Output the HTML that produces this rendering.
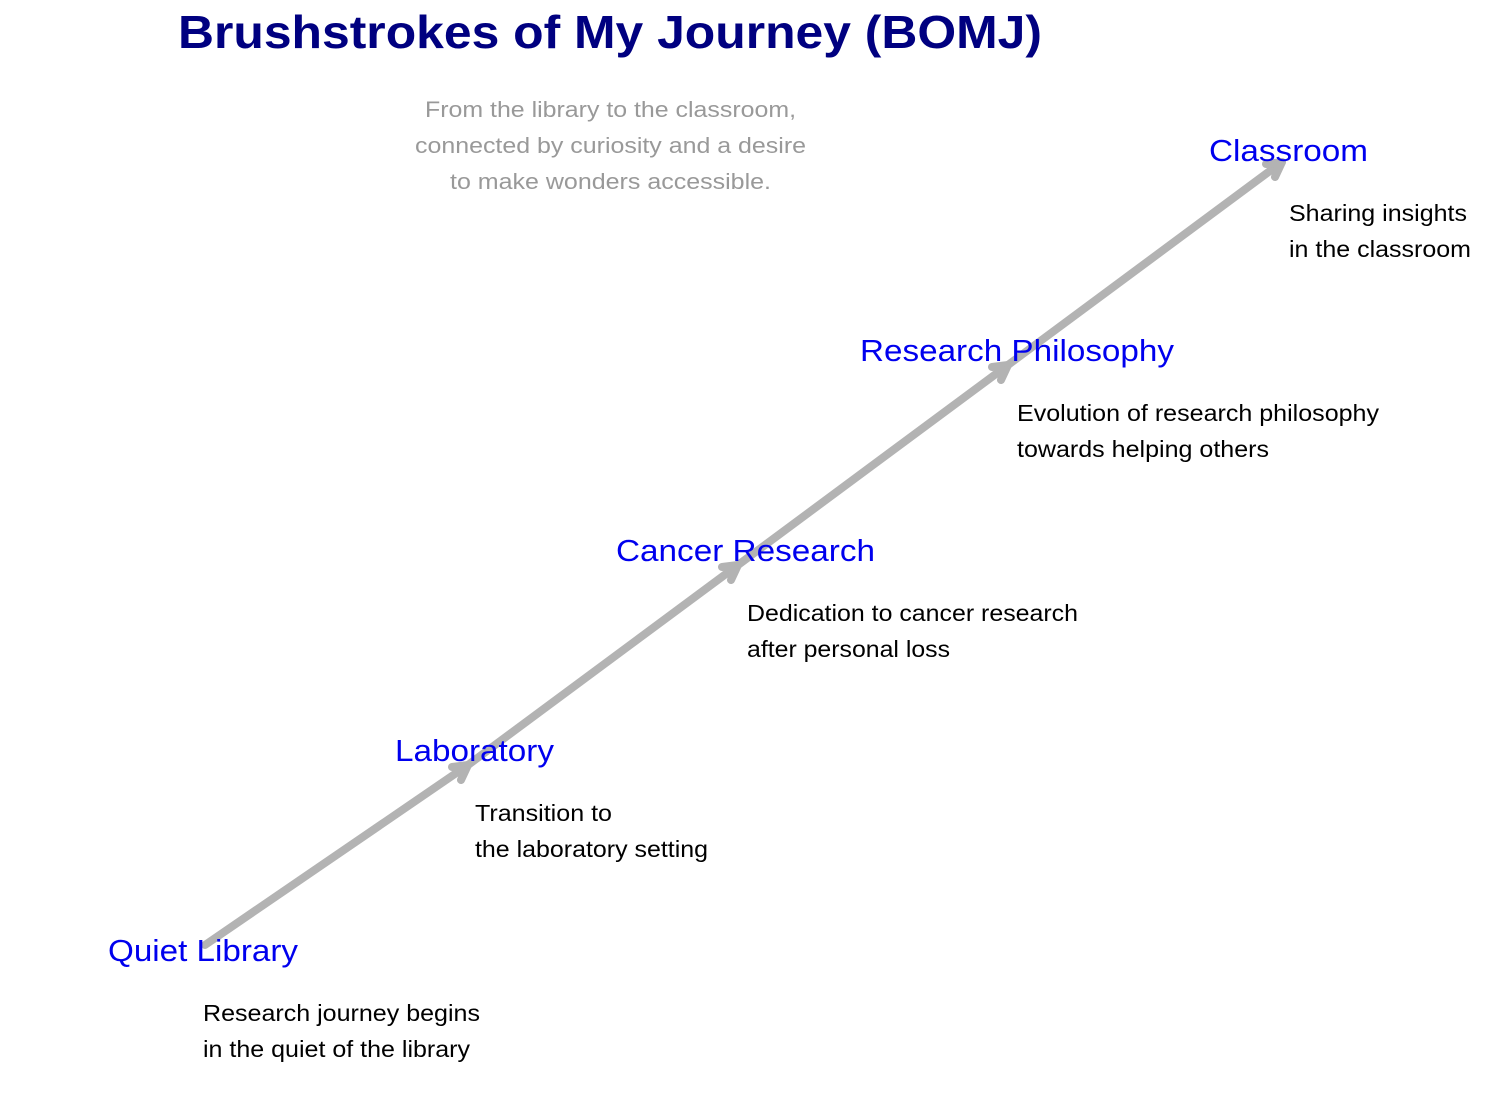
<!DOCTYPE html>
<html><head><meta charset="utf-8"><style>
body{margin:0;background:#fff;width:1493px;height:1100px;overflow:hidden;font-family:"Liberation Sans",Arial,sans-serif}
svg{position:absolute;left:0;top:0}
</style></head><body>
<svg width="1493" height="1100" viewBox="0 0 1493 1100">
<g stroke="#b3b3b3" stroke-width="8" fill="none" stroke-linecap="round" stroke-linejoin="round">
<line x1="205" y1="945" x2="468" y2="765"/>
<polyline points="452,767 468,765 461,780"/>
<line x1="468" y1="765" x2="738" y2="565"/>
<polyline points="722,567 738,565 731,580"/>
<line x1="738" y1="565" x2="1008" y2="365"/>
<polyline points="992,367 1008,365 1001,380"/>
<line x1="1008" y1="365" x2="1282" y2="162"/>
<polyline points="1266,164 1282,162 1275,177"/>
</g>
<text x="178" y="48" textLength="864" lengthAdjust="spacingAndGlyphs" font-weight="bold" font-size="46" fill="#000080">Brushstrokes of My Journey (BOMJ)</text>
<g font-size="22" fill="#999">
<text x="425" y="117" textLength="371" lengthAdjust="spacingAndGlyphs">From the library to the classroom,</text>
<text x="415" y="153" textLength="391" lengthAdjust="spacingAndGlyphs">connected by curiosity and a desire</text>
<text x="450" y="189" textLength="321" lengthAdjust="spacingAndGlyphs">to make wonders accessible.</text>
</g>
<g font-size="31" fill="#0000ee" lengthAdjust="spacingAndGlyphs">
<text x="108" y="961" textLength="190" lengthAdjust="spacingAndGlyphs">Quiet Library</text>
<text x="395" y="761" textLength="159" lengthAdjust="spacingAndGlyphs">Laboratory</text>
<text x="616" y="561" textLength="259" lengthAdjust="spacingAndGlyphs">Cancer Research</text>
<text x="860" y="361" textLength="314" lengthAdjust="spacingAndGlyphs">Research Philosophy</text>
<text x="1209" y="161" textLength="159" lengthAdjust="spacingAndGlyphs">Classroom</text>
</g>
<g font-size="23" fill="#000">
<text x="203" y="1021" textLength="277" lengthAdjust="spacingAndGlyphs">Research journey begins</text>
<text x="203" y="1057" textLength="267" lengthAdjust="spacingAndGlyphs">in the quiet of the library</text>
<text x="475" y="821" textLength="137" lengthAdjust="spacingAndGlyphs">Transition to</text>
<text x="475" y="857" textLength="233" lengthAdjust="spacingAndGlyphs">the laboratory setting</text>
<text x="747" y="621" textLength="331" lengthAdjust="spacingAndGlyphs">Dedication to cancer research</text>
<text x="747" y="657" textLength="203" lengthAdjust="spacingAndGlyphs">after personal loss</text>
<text x="1017" y="421" textLength="362" lengthAdjust="spacingAndGlyphs">Evolution of research philosophy</text>
<text x="1017" y="457" textLength="252" lengthAdjust="spacingAndGlyphs">towards helping others</text>
<text x="1289" y="221" textLength="178" lengthAdjust="spacingAndGlyphs">Sharing insights</text>
<text x="1289" y="257" textLength="182" lengthAdjust="spacingAndGlyphs">in the classroom</text>
</g>
</svg>
</body></html>
